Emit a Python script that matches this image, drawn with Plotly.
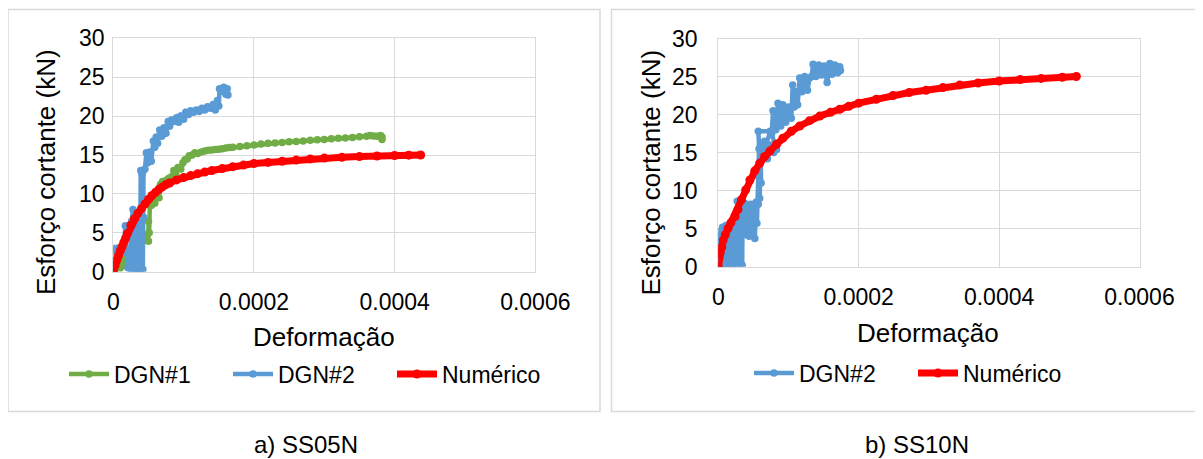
import plotly.graph_objects as go

# ---------------- data ----------------
# a) SS05N
ss05_dgn1_x = [0, 0.3e-5, 0.6e-5, 1.0e-5, 1.2e-5, 1.5e-5, 1.8e-5, 2.0e-5, 2.3e-5, 2.6e-5, 2.9e-5,
               3.2e-5, 3.5e-5, 3.8e-5, 4.1e-5, 4.4e-5, 4.7e-5, 5.0e-5, 5.0e-5, 5.1e-5, 5.2e-5,
               5.4e-5, 5.6e-5, 5.9e-5, 6.2e-5, 6.5e-5, 6.7e-5, 7.0e-5, 7.3e-5, 7.6e-5, 7.9e-5,
               8.3e-5, 8.6e-5, 8.9e-5, 9.2e-5, 9.6e-5, 9.9e-5, 10.2e-5, 10.5e-5, 10.8e-5, 11.2e-5,
               11.6e-5, 12.0e-5, 12.5e-5, 13.0e-5, 13.5e-5, 14.0e-5, 14.5e-5, 15.0e-5, 15.5e-5,
               16.0e-5, 16.5e-5, 17.0e-5, 18.0e-5, 19.0e-5, 20.0e-5, 21.0e-5, 22.0e-5, 23.0e-5,
               24.0e-5, 25.0e-5, 26.0e-5, 27.0e-5, 28.0e-5, 29.0e-5, 30.0e-5, 31.0e-5, 32.0e-5,
               33.0e-5, 34.0e-5, 35.0e-5, 36.0e-5, 36.5e-5, 37.0e-5, 37.5e-5, 38.0e-5, 38.2e-5, 38.2e-5]
ss05_dgn1_y = [0, 0.3, 0.8, 0.5, 1.5, 0.8, 2.2, 1.6, 2.8, 1.0, 3.5,
               2.0, 4.5, 3.0, 5.0, 4.0, 4.5, 3.9, 6.5, 5.0, 8.8,
               8.5, 9.2, 8.8, 10.0, 9.5, 11.2, 11.6, 11.3, 11.8, 12.0,
               12.2, 13.0, 12.5, 13.4, 13.2, 14.0, 14.4, 14.5, 14.9, 15.0,
               15.3, 15.2, 15.4, 15.5, 15.6, 15.65, 15.7, 15.75, 15.8,
               15.9, 15.95, 16.0, 16.1, 16.2, 16.3, 16.4, 16.5, 16.55,
               16.6, 16.7, 16.75, 16.8, 16.9, 16.95, 17.0, 17.1, 17.15,
               17.2, 17.25, 17.35, 17.4, 17.5, 17.45, 17.4, 17.5, 17.0, 17.3]

ss05_dgn2_x = [0, 0, 0.1e-5, 0.2e-5, 0.4e-5, 0.6e-5, 0.9e-5, 1.2e-5, 1.5e-5, 1.7e-5, 1.9e-5,
               2.1e-5, 2.3e-5, 2.5e-5, 2.6e-5, 2.8e-5, 3.0e-5, 3.1e-5, 3.2e-5, 3.3e-5, 3.4e-5,
               3.5e-5, 3.6e-5, 3.7e-5, 3.8e-5, 3.9e-5, 4.0e-5, 4.1e-5, 4.2e-5, 4.3e-5, 4.3e-5,
               4.5e-5, 4.7e-5, 4.9e-5, 5.2e-5, 5.4e-5, 5.7e-5, 5.9e-5, 6.1e-5, 6.3e-5, 6.6e-5,
               6.9e-5, 7.2e-5, 7.5e-5, 7.8e-5, 8.0e-5, 8.3e-5, 8.6e-5, 9.0e-5, 9.3e-5, 9.6e-5,
               10.0e-5, 10.3e-5, 10.7e-5, 11.0e-5, 11.4e-5, 11.8e-5, 12.2e-5, 12.6e-5, 13.0e-5,
               13.4e-5, 13.8e-5, 14.2e-5, 14.5e-5, 14.8e-5, 15.0e-5, 15.1e-5, 15.4e-5, 15.7e-5,
               16.0e-5, 16.2e-5, 16.3e-5]
ss05_dgn2_y = [0, 3.0, 0.8, 2.8, 1.5, 3.0, 2.2, 2.8, 2.5, 5.9, 2.6,
               0.5, 2.8, 0.3, 6.5, 8.0, 3.0, 7.0, 0.2, 6.5, 0.3,
               7.5, 1.0, 6.0, 0.2, 13.0, 4.5, 12.5, 0.3, 7.0, 13.0,
               13.2, 15.3, 14.0, 15.4, 14.2, 16.8, 16.0, 17.3, 16.5, 18.2,
               17.4, 18.5, 17.8, 19.3, 18.7, 19.5, 19.3, 19.8, 19.2, 20.0,
               19.6, 20.5, 20.2, 20.7, 20.5, 20.8, 20.6, 21.0, 20.8,
               21.2, 21.0, 21.5, 20.8, 22.0, 21.3, 23.5, 23.2, 23.7,
               22.8, 23.5, 22.7]

ss05_num_x = [0, 0.25e-5, 0.5e-5, 0.75e-5, 1.0e-5, 1.25e-5, 1.5e-5, 1.75e-5, 2.0e-5, 2.5e-5,
              3.0e-5, 3.5e-5, 4.0e-5, 4.5e-5, 5.0e-5, 5.5e-5, 6.0e-5, 6.5e-5, 7.0e-5, 7.5e-5,
              8.0e-5, 9.0e-5, 10.0e-5, 11.0e-5, 12.0e-5, 13.0e-5, 14.0e-5, 15.5e-5, 17.0e-5,
              18.5e-5, 20.0e-5, 22.0e-5, 24.0e-5, 26.0e-5, 28.0e-5, 30.0e-5, 32.5e-5, 35.0e-5,
              37.5e-5, 40.0e-5, 42.0e-5, 43.7e-5]
ss05_num_y = [0, 0.8, 1.5, 2.1, 2.7, 3.2, 3.8, 4.3, 4.9, 6.0,
              6.8, 7.5, 8.1, 8.7, 9.3, 9.8, 10.2, 10.6, 10.9, 11.2,
              11.4, 11.8, 12.1, 12.35, 12.6, 12.8, 13.0, 13.25, 13.5,
              13.7, 13.9, 14.05, 14.2, 14.35, 14.5, 14.6, 14.7, 14.8,
              14.87, 14.94, 14.98, 15.0]

# b) SS10N
ss10_dgn2_x = [0, 0, 0.1e-5, 0.2e-5, 0.3e-5, 0.4e-5, 0.5e-5, 0.6e-5, 0.8e-5, 0.9e-5, 1.0e-5,
               1.1e-5, 1.3e-5, 1.4e-5, 1.5e-5, 1.6e-5, 1.8e-5, 1.9e-5, 2.0e-5, 2.2e-5, 2.4e-5,
               2.5e-5, 2.6e-5, 2.7e-5, 2.8e-5, 2.9e-5, 3.0e-5, 3.1e-5, 3.2e-5, 3.3e-5, 3.4e-5,
               3.45e-5, 3.6e-5, 3.8e-5, 4.0e-5, 4.2e-5, 4.4e-5, 4.6e-5, 4.8e-5, 5.0e-5, 5.2e-5,
               5.4e-5, 5.5e-5, 5.6e-5, 5.7e-5, 5.8e-5, 5.9e-5, 6.0e-5, 6.1e-5, 5.7e-5, 7.4e-5,
               6.3e-5, 6.6e-5, 7.0e-5, 7.4e-5, 7.9e-5, 8.3e-5, 7.6e-5, 7.8e-5, 8.2e-5, 8.5e-5,
               8.9e-5, 9.2e-5, 9.6e-5, 10.0e-5, 10.4e-5, 10.6e-5, 10.8e-5, 11.1e-5, 11.3e-5,
               11.6e-5, 11.9e-5, 12.3e-5, 12.7e-5, 13.0e-5, 13.3e-5, 13.5e-5, 13.9e-5, 14.3e-5,
               14.7e-5, 15.1e-5, 15.5e-5, 15.9e-5, 16.2e-5, 16.6e-5, 17.0e-5, 17.3e-5, 17.4e-5]
ss10_dgn2_y = [0, 4.6, 1.8, 3.2, 0.3, 4.0, 1.0, 5.2, 0.5, 3.5, 0.2,
               5.4, 0.8, 4.8, 0.3, 5.3, 1.0, 4.5, 0.2, 5.5, 0.5,
               4.2, 0.3, 8.6, 4.0, 8.5, 3.0, 7.8, 0.5, 8.0, 0.2,
               6.0, 4.5, 8.3, 4.2, 8.0, 4.0, 8.2, 4.5, 7.5, 3.7,
               8.5, 5.7, 12.0, 8.2, 15.5, 9.0, 16.0, 11.0, 17.8, 17.8,
               14.5, 16.5, 14.2, 16.0, 15.0, 15.4, 17.5, 20.5, 18.0, 21.5,
               18.5, 21.3, 19.0, 21.0, 19.5, 23.9, 21.0, 23.0, 21.3,
               24.8, 23.0, 25.0, 23.2, 24.8, 25.0, 26.6, 25.0, 26.5,
               25.2, 26.4, 24.2, 26.7, 25.3, 26.5, 25.5, 26.3, 25.8]

ss10_num_x = [0, 0.24e-5, 0.5e-5, 0.7e-5, 1.0e-5, 1.4e-5, 1.8e-5, 2.4e-5, 2.8e-5, 3.3e-5,
              3.9e-5, 4.5e-5, 5.2e-5, 5.9e-5, 6.6e-5, 7.35e-5, 8.3e-5, 9.2e-5, 10.4e-5, 11.6e-5,
              13.0e-5, 14.45e-5, 16.0e-5, 17.3e-5, 18.6e-5, 20.0e-5, 22.5e-5, 24.9e-5, 27.2e-5,
              29.6e-5, 32.0e-5, 34.4e-5, 37.0e-5, 40.0e-5, 43.0e-5, 46.0e-5, 49.0e-5, 51.0e-5]
ss10_num_y = [0, 1.8, 2.6, 3.5, 4.2, 5.05, 5.8, 6.6, 7.5, 8.8,
              10.1, 11.4, 12.6, 13.6, 14.5, 15.2, 16.1, 16.9, 17.8, 18.5,
              19.2, 19.8, 20.3, 20.7, 21.1, 21.5, 22.0, 22.5, 22.9,
              23.2, 23.55, 23.9, 24.15, 24.4, 24.6, 24.75, 24.9, 25.0]

x_tickvals = [0, 0.0002, 0.0004, 0.0006]
x_ticktext = ["0", "0.0002", "0.0004", "0.0006"]
y_tickvals = [0, 5, 10, 15, 20, 25, 30]

# ---------------- styling ----------------
W, H = 1203, 459
OX, OY = 8, 8   # the page body offsets the figure by 8px
FONT = "Arial, Liberation Sans, sans-serif"
GREEN = "#70AD47"
BLUE = "#5B9BD5"
RED = "#FF0000"
GRID = "#D9D9D9"


def px(x):
    return (x - OX) / W


def py(y):
    return 1 - (y - OY) / H


fig = go.Figure()


def add_series(x, y, name, color, xa, ya, legend, lw=4.5, ms=7.5):
    fig.add_trace(go.Scatter(
        x=x, y=y, name=name, mode="lines+markers",
        line=dict(color=color, width=lw),
        marker=dict(color=color, size=ms),
        xaxis=xa, yaxis=ya, legend=legend,
    ))


add_series(ss05_dgn1_x, ss05_dgn1_y, "DGN#1", GREEN, "x", "y", "legend")
add_series(ss05_dgn2_x, ss05_dgn2_y, "DGN#2", BLUE, "x", "y", "legend")
add_series(ss05_num_x, ss05_num_y, "Numérico", RED, "x", "y", "legend", lw=7, ms=9)
add_series(ss10_dgn2_x, ss10_dgn2_y, "DGN#2", BLUE, "x2", "y2", "legend2")
add_series(ss10_num_x, ss10_num_y, "Numérico", RED, "x2", "y2", "legend2", lw=7, ms=9)

xaxis_common = dict(
    range=[0, 0.0006], tickvals=x_tickvals, ticktext=x_ticktext,
    showgrid=True, gridcolor=GRID, gridwidth=1.3, zeroline=False,
    showline=True, linecolor=GRID, linewidth=1.3, mirror=True,
    ticks="", tickfont=dict(family=FONT, size=23, color="black"),
    ticklabelstandoff=10, automargin=False,
)
yaxis_common = dict(
    range=[0, 30], tickvals=y_tickvals,
    showgrid=True, gridcolor=GRID, gridwidth=1.3, zeroline=False,
    showline=True, linecolor=GRID, linewidth=1.3, mirror=True,
    ticks="", tickfont=dict(family=FONT, size=23, color="black"),
    automargin=False,
)

legend_common = dict(
    orientation="h", xanchor="center", yanchor="middle",
    font=dict(family=FONT, size=23, color="black"), bgcolor="rgba(0,0,0,0)",
    itemwidth=40, entrywidth=109, entrywidthmode="pixels",
)

fig.update_layout(
    width=W, height=H,
    margin=dict(l=0, r=0, t=0, b=0, pad=0, autoexpand=False),
    paper_bgcolor="white", plot_bgcolor="white",
    showlegend=True,
    xaxis=dict(domain=[px(113.3), px(535.3)], anchor="y", **xaxis_common),
    yaxis=dict(domain=[py(271.7), py(38.3)], anchor="x", ticklabelstandoff=3, **yaxis_common),
    xaxis2=dict(domain=[px(718.3), px(1139.5)], anchor="y2", **xaxis_common),
    yaxis2=dict(domain=[py(266.7), py(38.5)], anchor="x2", ticklabelstandoff=15, **yaxis_common),
    legend=dict(x=px(310), y=py(374), **legend_common),
    legend2=dict(x=px(913), y=py(373), **legend_common),
    shapes=[
        dict(type="rect", xref="paper", yref="paper", x0=px(8), x1=px(600), y0=py(411.5), y1=py(9.5),
             line=dict(color=GRID, width=1.5), layer="below"),
        dict(type="rect", xref="paper", yref="paper", x0=px(611.5), x1=px(1212), y0=py(411.5), y1=py(9.5),
             line=dict(color=GRID, width=1.5), layer="below"),
    ],
    annotations=[
        dict(text="Deformação", x=px(324), y=py(336.5), xref="paper", yref="paper",
             showarrow=False, xanchor="center", yanchor="middle", font=dict(family=FONT, size=26, color="black")),
        dict(text="Deformação", x=px(928), y=py(332.5), xref="paper", yref="paper",
             showarrow=False, xanchor="center", yanchor="middle", font=dict(family=FONT, size=26, color="black")),
        dict(text="Esforço cortante (kN)", x=px(45.5), y=py(172.5), xref="paper", yref="paper",
             showarrow=False, textangle=-90, xanchor="center", yanchor="middle",
             font=dict(family=FONT, size=26, color="black")),
        dict(text="Esforço cortante (kN)", x=px(650), y=py(172.5), xref="paper", yref="paper",
             showarrow=False, textangle=-90, xanchor="center", yanchor="middle",
             font=dict(family=FONT, size=26, color="black")),
        dict(text="a) SS05N", x=px(306), y=py(444), xref="paper", yref="paper",
             showarrow=False, xanchor="center", yanchor="middle", font=dict(family=FONT, size=24, color="black")),
        dict(text="b) SS10N", x=px(917), y=py(444), xref="paper", yref="paper",
             showarrow=False, xanchor="center", yanchor="middle", font=dict(family=FONT, size=24, color="black")),
    ],
)

fig.write_html("out.html")
